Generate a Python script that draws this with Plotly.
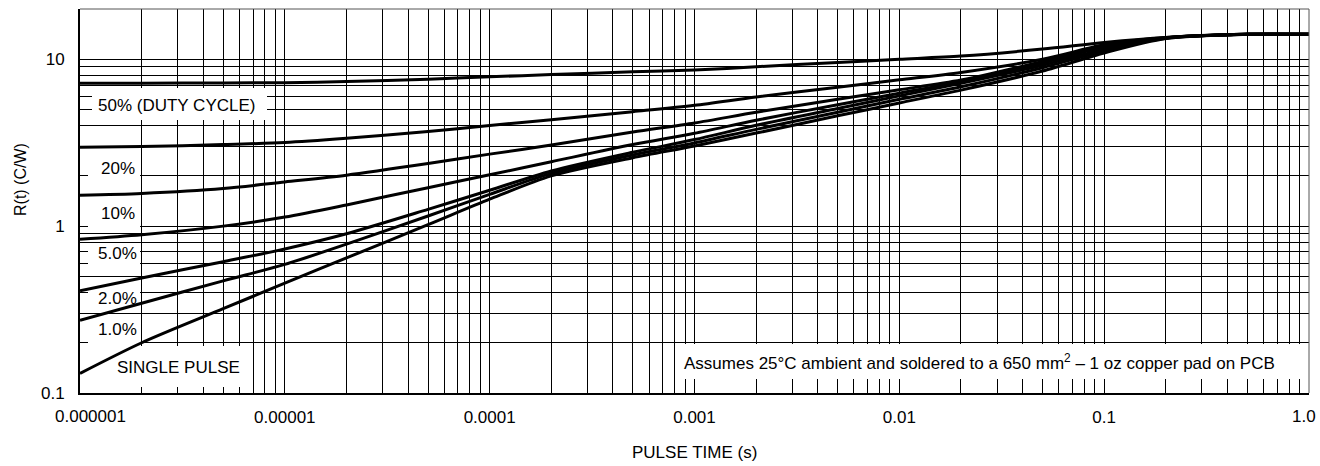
import math
import plotly.graph_objects as go

# ---------------- data ----------------
pulse_time = [1e-6, 2e-6, 5e-6, 1e-5, 2e-5, 5e-5, 1e-4, 2e-4, 5e-4, 1e-3,
              2e-3, 5e-3, 1e-2, 2e-2, 5e-2, 0.1, 0.2, 0.5, 1.0]

r_50 = [7.17, 7.19, 7.21, 7.24, 7.35, 7.6, 7.85, 8.09, 8.41, 8.62,
        9.01, 9.57, 10.0, 10.45, 11.5, 12.6, 13.5, 14.1, 14.1]
r_20 = [2.97, 3.0, 3.08, 3.17, 3.36, 3.69, 4.01, 4.34, 4.85, 5.3,
        5.94, 6.8, 7.53, 8.34, 10.0, 12.2, 13.5, 14.1, 14.1]
r_10 = [1.53, 1.57, 1.68, 1.84, 2.02, 2.37, 2.70, 3.06, 3.66, 4.15,
        4.81, 5.76, 6.56, 7.5, 9.7, 12.0, 13.45, 14.1, 14.1]
r_5 = [0.834, 0.888, 1.0, 1.133, 1.34, 1.70, 2.03, 2.43, 3.08, 3.6,
       4.31, 5.34, 6.26, 7.33, 9.5, 11.8, 13.4, 14.1, 14.1]
r_2 = [0.41, 0.489, 0.612, 0.73, 0.90, 1.26, 1.64, 2.14, 2.77, 3.3,
       4.02, 5.07, 6.03, 7.18, 9.2, 11.5, 13.4, 14.1, 14.1]
r_1 = [0.273, 0.345, 0.47, 0.59, 0.78, 1.15, 1.55, 2.07, 2.67, 3.15,
       3.8, 4.81, 5.75, 6.84, 8.9, 11.2, 13.35, 14.1, 14.1]
r_single = [0.131, 0.2, 0.32, 0.455, 0.645, 1.02, 1.45, 2.0, 2.57, 3.02,
            3.61, 4.58, 5.47, 6.53, 8.5, 10.9, 13.3, 14.1, 14.1]

series_names = ["50%", "20%", "10%", "5.0%", "2.0%", "1.0%", "SINGLE PULSE"]
series_values = [r_50, r_20, r_10, r_5, r_2, r_1, r_single]

x_tick_vals = [1e-6, 1e-5, 1e-4, 1e-3, 1e-2, 1e-1, 1.0]
x_tick_text = ["0.000001", "0.00001", "0.0001", "0.001", "0.01", "0.1", "1.0"]
y_tick_vals = [0.1, 1, 10]
y_tick_text = ["0.1", "1", "10"]

curve_labels = ["50% (DUTY CYCLE)", "20%", "10%", "5.0%", "2.0%", "1.0%", "SINGLE PULSE"]
note_text = "Assumes 25°C ambient and soldered to a 650 mm<sup>2</sup> – 1 oz copper pad on PCB"

# ---------------- layout geometry (page pixels) ----------------
W, H = 1320, 466
X0, X1, Y0, Y1 = 80, 1309, 9, 393  # plot area in page pixels
ML, MR, MT, MB = X0, W - X1, Y0, H - Y1
PW, PH = X1 - X0, Y1 - Y0
XR = [-6, 0]
YR = [-1, 1.30103]

def dx(px):
    return (px - X0) / PW

def dy(py):
    return (Y1 - py) / PH

def px2x(px):
    return 10 ** (XR[0] + (XR[1] - XR[0]) * dx(px))

def py2y(py):
    return 10 ** (YR[0] + (YR[1] - YR[0]) * dy(py))

# label text anchor (left x, center y) in page pixels
label_pos = [(97, 106), (100, 168), (100, 213), (97, 253), (97, 298), (97, 329), (116, 367)]
# white boxes behind labels (x0, y0, x1, y1) in page pixels
label_boxes = [(92, 88, 267, 120), (88, 153, 140, 184), (88, 199, 140, 228),
               (88, 243, 140, 270), (88, 286, 140, 311), (88, 316, 140, 345),
               (108, 346, 248, 387)]
note_pos = (683, 362)
note_box = (676, 344, 1300, 379)
# horizontal nudges (px) of the outermost x tick labels, as in the reference
first_label_shift = 10
last_label_shift = -5
tick_label_cy = 416

FONT = "Liberation Sans, Arial, Helvetica, sans-serif"
FS = 17
GRID = "#000000"

# minor grid values: 2..9 per decade
x_minor = [m * 10.0 ** e for e in range(-6, 0) for m in range(2, 10)]
y_minor = [m * 10.0 ** e for e in range(-1, 2) for m in range(2, 10) if m * 10.0 ** e <= 20.0001]

fig = go.Figure()

# white boxes (drawn above the grid, below the curves)
for (bx0, by0, bx1, by1) in label_boxes + [note_box]:
    xa, xb = px2x(bx0), px2x(bx1)
    ya, yb = py2y(by1), py2y(by0)
    fig.add_trace(go.Scatter(
        x=[xa, xb, xb, xa, xa], y=[ya, ya, yb, yb, ya], mode="lines",
        fill="toself", fillcolor="white", line=dict(width=0, color="white"),
        hoverinfo="skip", showlegend=False,
    ))

for name, vals in zip(series_names, series_values):
    fig.add_trace(go.Scatter(
        x=pulse_time, y=vals, mode="lines", name=name,
        line=dict(color="black", width=3, shape="spline", smoothing=0.8),
        hoverinfo="skip",
    ))

shapes = [
    dict(type="line", xref="x domain", yref="y domain", x0=0, x1=1, y0=1, y1=1,
         line=dict(color="#555", width=1)),
    dict(type="line", xref="x domain", yref="y domain", x0=1, x1=1, y0=0, y1=1,
         line=dict(color="#555", width=1)),
]

annotations = []
for text, (px, py) in zip(curve_labels, label_pos):
    annotations.append(dict(text=text, xref="x domain", yref="y domain",
                            x=dx(px), y=dy(py), xanchor="left", yanchor="middle",
                            showarrow=False, borderpad=0,
                            font=dict(family=FONT, size=FS, color="black")))
annotations.append(dict(text=note_text, xref="x domain", yref="y domain",
                        x=dx(note_pos[0]), y=dy(note_pos[1]), xanchor="left", yanchor="middle",
                        showarrow=False, borderpad=0,
                        font=dict(family=FONT, size=FS, color="black")))
# outermost x tick labels, placed on the axis scale but nudged inward so they stay on the page
for i, shift in ((0, first_label_shift), (len(x_tick_vals) - 1, last_label_shift)):
    annotations.append(dict(text=x_tick_text[i], xref="x", yref="y domain",
                            x=math.log10(x_tick_vals[i]), y=dy(tick_label_cy), xshift=shift,
                            xanchor="center", yanchor="middle", showarrow=False, borderpad=0,
                            font=dict(family=FONT, size=FS, color="black")))
axis_tick_text = [("" if i in (0, len(x_tick_text) - 1) else t) for i, t in enumerate(x_tick_text)]

# axis titles
annotations.append(dict(text="PULSE TIME (s)", xref="x domain", yref="y domain",
                        x=0.5, y=dy(452), xanchor="center", yanchor="middle",
                        showarrow=False, font=dict(family=FONT, size=FS, color="black")))
annotations.append(dict(text="R(t) (C/W)", xref="x domain", yref="y domain",
                        x=dx(20), y=dy(180), xanchor="center", yanchor="middle", textangle=-90,
                        showarrow=False, font=dict(family=FONT, size=16, color="black")))

fig.update_layout(
    width=W, height=H, autosize=False,
    margin=dict(l=ML, r=MR, t=MT, b=MB, pad=0),
    paper_bgcolor="white", plot_bgcolor="white",
    showlegend=False,
    font=dict(family=FONT, size=FS, color="black"),
    shapes=shapes, annotations=annotations,
)
fig.update_xaxes(
    type="log", range=XR,
    tickvals=x_tick_vals, ticktext=axis_tick_text, ticks="",
    ticklabelstandoff=8,
    showgrid=True, gridcolor=GRID, gridwidth=1,
    minor=dict(tickvals=x_minor, showgrid=True, gridcolor=GRID, gridwidth=1, ticks=""),
    showline=True, linecolor="black", linewidth=2, mirror=False,
    zeroline=False, tickfont=dict(family=FONT, size=FS, color="black"),
)
fig.update_yaxes(
    type="log", range=YR,
    tickvals=y_tick_vals, ticktext=y_tick_text, ticks="",
    ticklabelstandoff=10,
    showgrid=True, gridcolor=GRID, gridwidth=1,
    minor=dict(tickvals=y_minor, showgrid=True, gridcolor=GRID, gridwidth=1, ticks=""),
    showline=True, linecolor="black", linewidth=2, mirror=False,
    zeroline=False, tickfont=dict(family=FONT, size=FS, color="black"),
)

# remove the page's default body margin and scrollbars so the figure fills the window exactly
page_css_js = ("document.documentElement.style.overflow='hidden';"
               "document.body.style.margin='0';"
               "document.body.style.overflow='hidden';")

fig.write_html("out.html", config={"displayModeBar": False}, post_script=page_css_js)
